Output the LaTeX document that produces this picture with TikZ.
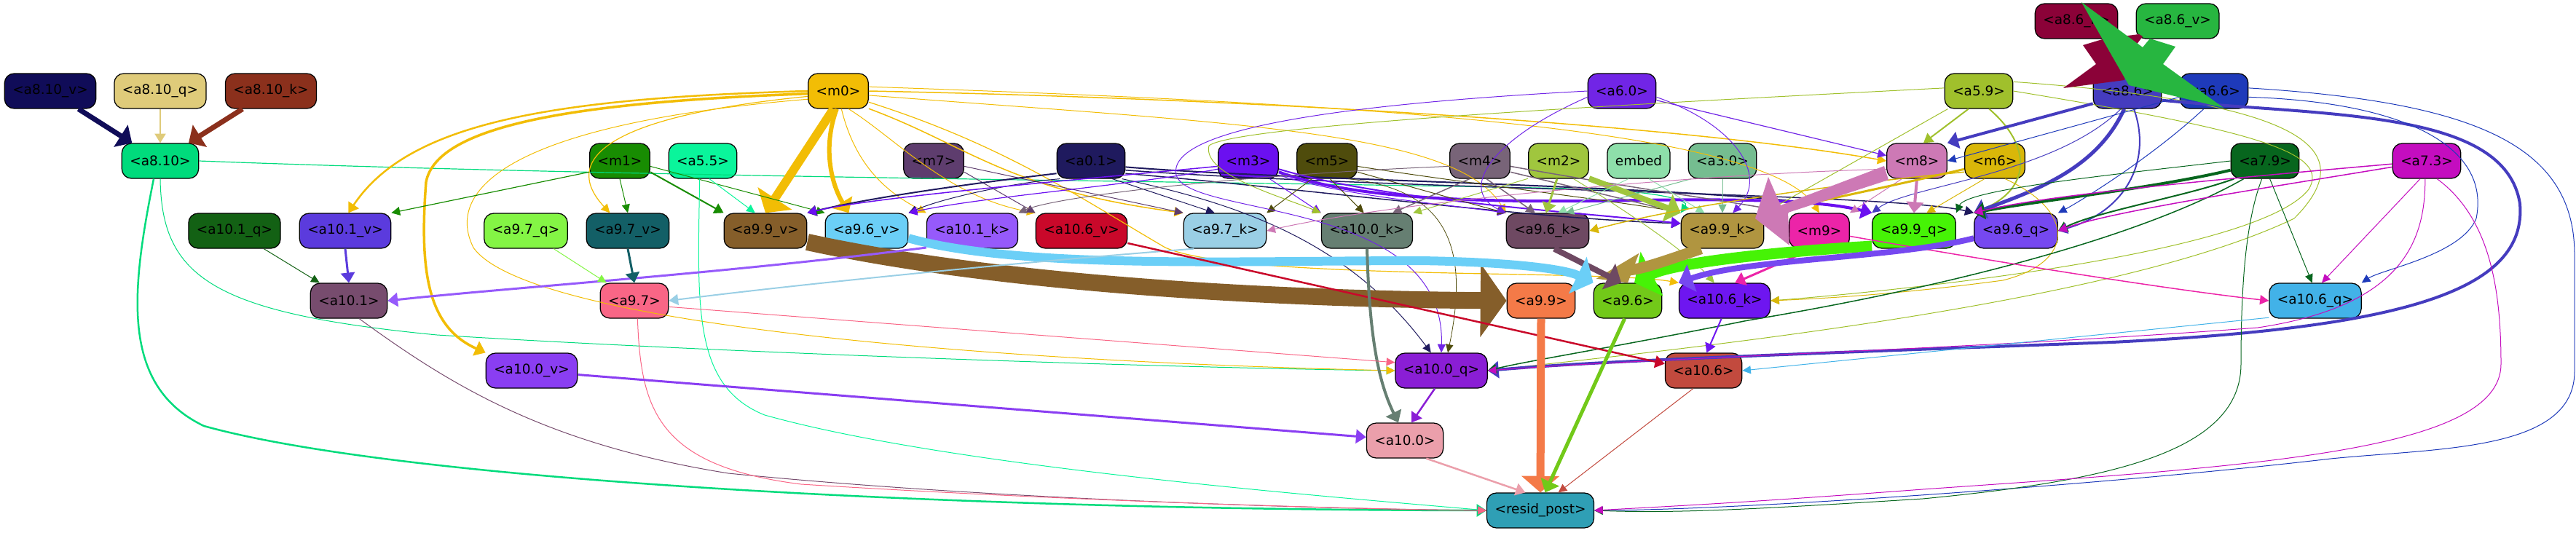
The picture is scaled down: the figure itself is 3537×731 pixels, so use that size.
\documentclass[tikz,border=0pt]{standalone}
\usepackage{fontspec}
\setmainfont{DejaVu Sans}
\usetikzlibrary{arrows.meta}
\definecolor{ca810v}{HTML}{100C58}\definecolor{ca810q}{HTML}{DFCB7A}\definecolor{ca810k}{HTML}{8B301C}
\definecolor{ca810}{HTML}{00DB7C}\definecolor{cm1}{HTML}{188C02}\definecolor{ca101q}{HTML}{136114}
\definecolor{ca101v}{HTML}{5B3BDD}\definecolor{ca97q}{HTML}{84F545}\definecolor{ca97v}{HTML}{135F66}
\definecolor{cm0}{HTML}{F2BD05}\definecolor{ca55}{HTML}{0AF59B}\definecolor{cm7}{HTML}{5E3D6E}
\definecolor{ca01}{HTML}{1F1A5E}\definecolor{cm3}{HTML}{6B10F0}\definecolor{ca99v}{HTML}{855E2A}
\definecolor{ca96v}{HTML}{6BCFF7}\definecolor{ca101k}{HTML}{965AFB}\definecolor{ca106v}{HTML}{C9082A}
\definecolor{ca97k}{HTML}{9ACFE5}\definecolor{cm5}{HTML}{4F4C0C}\definecolor{ca60}{HTML}{7125E6}
\definecolor{cm4}{HTML}{786478}\definecolor{cm2}{HTML}{A0C63E}\definecolor{cemb}{HTML}{8EDFAA}
\definecolor{ca30}{HTML}{75BD90}\definecolor{cm8}{HTML}{CD79B5}\definecolor{ca100k}{HTML}{667F72}
\definecolor{ca96k}{HTML}{6E4962}\definecolor{ca99k}{HTML}{B09540}\definecolor{cm9}{HTML}{EC24A8}
\definecolor{ca99q}{HTML}{46F306}\definecolor{ca59}{HTML}{A0C02C}\definecolor{ca86k}{HTML}{8B0238}
\definecolor{ca86v}{HTML}{27B640}\definecolor{ca86}{HTML}{453CBF}\definecolor{ca66}{HTML}{1E3ABA}
\definecolor{cm6}{HTML}{D9B709}\definecolor{ca79}{HTML}{07661E}\definecolor{ca73}{HTML}{C40DBF}
\definecolor{ca96q}{HTML}{7648F0}\definecolor{ca101}{HTML}{774C6E}\definecolor{ca97}{HTML}{F96686}
\definecolor{ca100v}{HTML}{8A3EF2}\definecolor{ca99}{HTML}{F47A48}\definecolor{ca96}{HTML}{72C919}
\definecolor{ca106k}{HTML}{6E16F0}\definecolor{ca106q}{HTML}{42B2E8}\definecolor{ca100q}{HTML}{8A1ED5}
\definecolor{ca106}{HTML}{C24A3E}\definecolor{ca100}{HTML}{EB9FAB}\definecolor{crp}{HTML}{2F9FB5}
\tikzset{
  nb/.style={draw=black, line width=0.025cm, rounded corners=0.26cm, minimum height=0.96cm,
    inner xsep=0.22cm, inner ysep=0pt, font=\fontsize{10.5pt}{12pt}\selectfont},
  pw/.style={line width=#1*0.02cm},
  e/.style={-{Triangle[length=6pt 1.1, width=4pt 4]}}
}
\begin{document}
\begin{tikzpicture}[x=0.02cm,y=-0.02cm]
\useasboundingbox (0,0) rectangle (3537,731);
% nodes
\node[nb,fill=ca86k] (a86k) at (2851,29) {<a8.6\_k>};
\node[nb,fill=ca86v] (a86v) at (2990,29) {<a8.6\_v>};
\node[nb,fill=ca810v] (a810v) at (69,125) {<a8.10\_v>};
\node[nb,fill=ca810q] (a810q) at (220,125) {<a8.10\_q>};
\node[nb,fill=ca810k] (a810k) at (372,125) {<a8.10\_k>};
\node[nb,fill=cm0] (m0) at (1151,125) {<m0>};
\node[nb,fill=ca60] (a60) at (2227,125) {<a6.0>};
\node[nb,fill=ca59] (a59) at (2717,125) {<a5.9>};
\node[nb,fill=ca86] (a86) at (2921,125) {<a8.6>};
\node[nb,fill=ca66] (a66) at (3040,125) {<a6.6>};
\node[nb,fill=ca810] (a810) at (220,221) {<a8.10>};
\node[nb,fill=cm1] (m1) at (851,221) {<m1>};
\node[nb,fill=ca55] (a55) at (965,221) {<a5.5>};
\node[nb,fill=cm7] (m7) at (1282,221) {<m7>};
\node[nb,fill=ca01] (a01) at (1498,221) {<a0.1>};
\node[nb,fill=cm3] (m3) at (1714,221) {<m3>};
\node[nb,fill=cm5] (m5) at (1822,221) {<m5>};
\node[nb,fill=cm4] (m4) at (2032,221) {<m4>};
\node[nb,fill=cm2] (m2) at (2140,221) {<m2>};
\node[nb,fill=cemb] (emb) at (2250,221) {embed};
\node[nb,fill=ca30] (a30) at (2365,221) {<a3.0>};
\node[nb,fill=cm8] (m8) at (2632,221) {<m8>};
\node[nb,fill=cm6] (m6) at (2739,221) {<m6>};
\node[nb,fill=ca79] (a79) at (3110,221) {<a7.9>};
\node[nb,fill=ca73] (a73) at (3332,221) {<a7.3>};
\node[nb,fill=ca101q] (a101q) at (322,317) {<a10.1\_q>};
\node[nb,fill=ca101v] (a101v) at (474,317) {<a10.1\_v>};
\node[nb,fill=ca97q] (a97q) at (722,317) {<a9.7\_q>};
\node[nb,fill=ca97v] (a97v) at (862,317) {<a9.7\_v>};
\node[nb,fill=ca99v] (a99v) at (1051,317) {<a9.9\_v>};
\node[nb,fill=ca96v] (a96v) at (1190,317) {<a9.6\_v>};
\node[nb,fill=ca101k] (a101k) at (1335,317) {<a10.1\_k>};
\node[nb,fill=ca106v] (a106v) at (1485,317) {<a10.6\_v>};
\node[nb,fill=ca97k] (a97k) at (1682,317) {<a9.7\_k>};
\node[nb,fill=ca100k] (a100k) at (1877,317) {<a10.0\_k>};
\node[nb,fill=ca96k] (a96k) at (2125,317) {<a9.6\_k>};
\node[nb,fill=ca99k] (a99k) at (2365,317) {<a9.9\_k>};
\node[nb,fill=cm9] (m9) at (2498,317) {<m9>};
\node[nb,fill=ca99q] (a99q) at (2628,317) {<a9.9\_q>};
\node[nb,fill=ca96q] (a96q) at (2768,317) {<a9.6\_q>};
\node[nb,fill=ca101] (a101) at (479,413) {<a10.1>};
\node[nb,fill=ca97] (a97) at (871,413) {<a9.7>};
\node[nb,fill=ca99] (a99) at (2116,413) {<a9.9>};
\node[nb,fill=ca96] (a96) at (2235,413) {<a9.6>};
\node[nb,fill=ca106k] (a106k) at (2368,413) {<a10.6\_k>};
\node[nb,fill=ca106q] (a106q) at (3179,413) {<a10.6\_q>};
\node[nb,fill=ca100v] (a100v) at (730,509) {<a10.0\_v>};
\node[nb,fill=ca100q] (a100q) at (1979,509) {<a10.0\_q>};
\node[nb,fill=ca106] (a106) at (2339,509) {<a10.6>};
\node[nb,fill=ca100] (a100) at (1929,605) {<a10.0>};
\node[nb,fill=crp] (rp) at (2115,701) {<resid\_post>};
% a8.10 group
\draw[e,pw=7,draw=ca810v] (a810v) -- (a810);
\draw[e,pw=2,draw=ca810q] (a810q) -- (a810);
\draw[e,pw=7,draw=ca810k] (a810k) -- (a810);
\draw[e,pw=2.5,draw=ca810] (a810.250) .. controls (180,400) and (165,530) .. (280,585) .. controls (550,660) and (1300,700) .. (rp.west);
\draw[e,pw=1,draw=ca810] (a810.south) .. controls (222,380) and (290,430) .. (600,460) .. controls (1000,485) and (1600,505) .. (a100q.west);
\draw[e,pw=1.2,draw=ca810] (a810.east) .. controls (900,245) and (1800,250) .. (2200,260) .. controls (2280,265) and (2320,275) .. (a99k.north west);
% m0
\draw[e,pw=12,draw=cm0] (m0.-105) -- (a99v.north);
\draw[e,pw=6,draw=cm0] (m0.-95) .. controls (1130,200) and (1140,250) .. (a96v.135);
\draw[e,pw=2.5,draw=cm0] (m0.west) .. controls (750,135) and (560,170) .. (a101v.80);
\draw[e,pw=3.5,draw=cm0] (m0.185) .. controls (800,140) and (600,170) .. (585,250) .. controls (575,380) and (590,450) .. (a100v.north west);
\draw[e,pw=1.2,draw=cm0] (m0.190) .. controls (830,160) and (770,220) .. (a97v.135);
\draw[e,pw=1,draw=cm0] (m0.195) .. controls (700,170) and (610,260) .. (650,340) .. controls (720,440) and (1300,495) .. (a100q.west);
\draw[e,pw=1,draw=cm0] (m0.-80) .. controls (1175,230) and (1220,265) .. (a101k.north west);
\draw[e,pw=1,draw=cm0] (m0.-60) .. controls (1230,190) and (1300,270) .. (a106v.north west);
\draw[e,pw=1.5,draw=cm0] (m0.-30) .. controls (1330,200) and (1380,260) .. (a97k.north west);
\draw[e,pw=1.2,draw=cm0] (m0.-20) .. controls (1380,200) and (1480,270) .. (1600,340) .. controls (1700,385) and (2200,370) .. (a106k.north west);
\draw[e,pw=1.5,draw=cm0] (m0.east) .. controls (1700,135) and (2300,170) .. (m8.west);
\draw[e,pw=1,draw=cm0] (m0.8) .. controls (1800,140) and (2420,170) .. (m9.north);
\draw[e,pw=1,draw=cm0] (m0.-8) .. controls (1700,170) and (2000,180) .. (a96k.north west);
% m1
\draw[e,pw=1.2,draw=cm1] (m1.200) -- (a101v.north east);
\draw[e,pw=1,draw=cm1] (m1.south) -- (a97v.north);
\draw[e,pw=2,draw=cm1] (m1.-20) -- (a99v.north west);
\draw[e,pw=1,draw=cm1] (m1.-10) -- (a96v.north west);
% a5.5
\draw[e,pw=1,draw=ca55] (a55.-70) -- (a99v.120);
\draw[e,pw=1,draw=ca55] (a55.-100) .. controls (958,420) and (950,530) .. (1050,570) .. controls (1300,640) and (1800,680) .. (rp.west);
% m7
\draw[e,pw=1,draw=cm7] (m7.-20) -- (a106v.north west);
\draw[e,pw=1,draw=cm7] (m7.-10) -- (a97k.north west);
% a0.1
\draw[e,pw=2,draw=ca01] (a01.200) .. controls (1350,250) and (1200,270) .. (a99v.north east);
\draw[e,pw=1,draw=ca01] (a01.210) .. controls (1400,250) and (1300,270) .. (a96v.north east);
\draw[e,pw=1,draw=ca01] (a01.-40) -- (a97k.120);
\draw[e,pw=2,draw=ca01] (a01.-10) .. controls (1800,250) and (2400,255) .. (a99q.north west);
\draw[e,pw=1.5,draw=ca01] (a01.-15) .. controls (1900,260) and (2600,265) .. (a96q.north west);
\draw[e,pw=1,draw=ca01] (a01.-30) .. controls (1700,280) and (1850,330) .. (a100q.120);
\draw[e,pw=1.5,draw=ca01] (a01.-20) .. controls (1800,260) and (2100,300) .. (a99k.170);
% m3
\draw[e,pw=1.5,draw=cm3] (m3.190) .. controls (1500,245) and (1200,270) .. (a99v.north east);
\draw[e,pw=1.2,draw=cm3] (m3.195) .. controls (1550,255) and (1350,270) .. (a96v.north east);
\draw[e,pw=1,draw=cm3] (m3.-40) -- (a100k.north west);
\draw[e,pw=4,draw=cm3] (m3.-20) .. controls (1850,270) and (2000,280) .. (2250,275) .. controls (2450,272) and (2520,280) .. (a99q.north west);
\draw[e,pw=2,draw=cm3] (m3.-15) .. controls (1900,275) and (2150,290) .. (a99k.170);
\draw[e,pw=1,draw=cm3] (m3.-25) .. controls (1850,270) and (1980,280) .. (a96k.north west);
% m5
\draw[e,pw=1,draw=cm5] (m5.-130) -- (a97k.north east);
\draw[e,pw=1,draw=cm5] (m5.-80) -- (a100k.100);
\draw[e,pw=1,draw=cm5] (m5.-20) .. controls (1950,260) and (2020,280) .. (a96k.north west);
\draw[e,pw=1,draw=cm5] (m5.-10) .. controls (2000,250) and (2250,280) .. (a99k.north west);
\draw[e,pw=0.8,draw=cm5] (m5.-40) .. controls (1980,260) and (2020,330) .. (a100q.70);
% m4
\draw[e,pw=1.5,draw=cm4] (m4.-120) -- (a100k.35);
\draw[e,pw=1.5,draw=cm4] (m4.-70) -- (a96k.125);
\draw[e,pw=1.5,draw=cm4] (m4.-20) -- (a99k.north west);
\draw[e,pw=1.5,draw=cm4] (m4.-10) .. controls (2250,260) and (2400,280) .. (m9.north west);
\draw[e,pw=1,draw=cm4] (m4.190) .. controls (1700,240) and (1450,270) .. (a101k.north east);
% m2
\draw[e,pw=3,draw=cm2] (m2.-95) -- (a96k.95);
\draw[e,pw=8,draw=cm2] (m2.-30) -- (a99k.north west);
\draw[e,pw=1,draw=cm2] (m2.-150) -- (a100k.north east);
\draw[e,pw=1,draw=cm2] (m2.-50) .. controls (2250,300) and (2320,350) .. (a106k.120);
% embed, a3.0
\draw[e,pw=1,draw=cemb] (emb.-120) -- (a96k.60);
\draw[e,pw=1,draw=cemb] (emb.-60) -- (a99k.135);
\draw[e,pw=1,draw=ca30] (a30.south) -- (a99k.north);
\draw[e,pw=1,draw=ca30] (a30.-150) -- (a96k.45);
% a6.0
\draw[e,pw=1.2,draw=ca60] (a60.-15) -- (m8.170);
\draw[e,pw=1,draw=ca60] (a60.-10) .. controls (2380,170) and (2430,240) .. (a99k.60);
\draw[e,pw=1,draw=ca60] (a60.190) .. controls (2050,190) and (2000,260) .. (a96k.north west);
\draw[e,pw=1,draw=ca60] (a60.west) .. controls (1900,140) and (1600,170) .. (1615,240) .. controls (1630,300) and (1985,270) .. (a100q.north);
% a5.9
\draw[e,pw=2,draw=ca59] (a59.-120) -- (m8.70);
\draw[e,pw=2,draw=ca59] (a59.-60) .. controls (2790,200) and (2790,260) .. (a96q.north west);
\draw[e,pw=1,draw=ca59] (a59.-150) -- (a99k.north east);
\draw[e,pw=1,draw=ca59] (a59.east) .. controls (3100,180) and (3200,210) .. (3170,260) .. controls (3100,350) and (2600,400) .. (a106k.east);
\draw[e,pw=1,draw=ca59] (a59.15) .. controls (3150,140) and (3250,200) .. (3150,300) .. controls (2900,420) and (2300,480) .. (a100q.east);
\draw[e,pw=1,draw=ca59] (a59.175) .. controls (2300,140) and (1700,170) .. (1660,200) .. controls (1650,240) and (1760,270) .. (a100k.north west);
% a8.6
\draw[e,pw=4,draw=ca86] (a86.-160) -- (m8.north east);
\draw[e,pw=5,draw=ca86] (a86.-100) .. controls (2880,230) and (2800,260) .. (a96q.north west);
\draw[e,pw=4,draw=ca86] (a86.-15) .. controls (3200,160) and (3440,150) .. (3460,280) .. controls (3470,400) and (3300,450) .. (2900,470) .. controls (2500,485) and (2200,495) .. (a100q.east);
\draw[e,pw=1,draw=ca86] (a86.-110) .. controls (2820,240) and (2620,255) .. (a99q.north west);
\draw[e,pw=2,draw=ca86] (a86.-70) .. controls (2955,220) and (2920,290) .. (a96q.east);
% a6.6
\draw[e,pw=1,draw=ca66] (a66.190) -- (m8.east);
\draw[e,pw=1,draw=ca66] (a66.-120) .. controls (2950,220) and (2850,280) .. (a96q.north east);
\draw[e,pw=1,draw=ca66] (a66.-10) .. controls (3300,140) and (3420,200) .. (3400,300) .. controls (3380,350) and (3270,370) .. (a106q.north east);
\draw[e,pw=1,draw=ca66] (a66.5) .. controls (3400,140) and (3535,200) .. (3535,350) -- (3535,510) .. controls (3535,620) and (3350,615) .. (3200,630) .. controls (2900,665) and (2400,700) .. (rp.east);
% m8
\draw[e,pw=4,draw=cm8] (m8.south) -- (a99q.north);
\draw[e,pw=1,draw=cm8] (m8.-130) -- (m9.north east);
\draw[e,pw=1,draw=cm8] (m8.195) .. controls (2300,240) and (1900,280) .. (a97k.east);
% m6
\draw[e,pw=3,draw=cm6] (m6.195) .. controls (2600,255) and (2480,280) .. (a99k.north east);
\draw[e,pw=1,draw=cm6] (m6.-120) -- (a99q.55);
\draw[e,pw=1.5,draw=cm6] (m6.200) .. controls (2500,255) and (2300,285) .. (a96k.east);
\draw[e,pw=1,draw=cm6] (m6.-60) .. controls (2850,290) and (2850,360) .. (2750,385) .. controls (2600,405) and (2500,410) .. (a106k.east);
% a7.9
\draw[e,pw=4,draw=ca79] (a79.195) .. controls (2950,260) and (2800,275) .. (a96q.north west);
\draw[e,pw=2,draw=ca79] (a79.210) .. controls (3000,270) and (2880,290) .. (a96q.east);
\draw[e,pw=1,draw=ca79] (a79.180) .. controls (2900,240) and (2700,260) .. (a99q.north east);
\draw[e,pw=1.5,draw=ca79] (a79.-140) .. controls (2950,320) and (2700,390) .. (2400,440) .. controls (2200,480) and (2100,495) .. (a100q.east);
\draw[e,pw=1,draw=ca79] (a79.-75) -- (a106q.100);
\draw[e,pw=1,draw=ca79] (a79.-100) .. controls (3085,300) and (3077,380) .. (3077,500) .. controls (3077,620) and (2900,660) .. (2640,685) .. controls (2400,700) and (2300,705) .. (rp.east);
% a7.3
\draw[e,pw=1.5,draw=ca73] (a73.185) .. controls (3000,250) and (2800,270) .. (a96q.north west);
\draw[e,pw=1.5,draw=ca73] (a73.190) .. controls (3100,260) and (2900,290) .. (a96q.east);
\draw[e,pw=1,draw=ca73] (a73.-110) -- (a106q.70);
\draw[e,pw=1,draw=ca73] (a73.-95) .. controls (3330,330) and (3300,420) .. (3100,450) .. controls (2700,480) and (2300,490) .. (a100q.east);
\draw[e,pw=1,draw=ca73] (a73.-60) .. controls (3420,300) and (3434,400) .. (3434,500) .. controls (3434,620) and (3100,640) .. (2640,672) .. controls (2400,690) and (2300,695) .. (rp.east);
% m9
\draw[e,pw=3,draw=cm9] (m9.-110) -- (a106k.60);
\draw[e,pw=1.5,draw=cm9] (m9.-10) .. controls (2800,370) and (3000,400) .. (a106q.west);
% thick into a9.6 etc.
\draw[e,pw=15,draw=ca99q] (a99q.200) .. controls (2450,345) and (2300,360) .. (a96.70);
\draw[e,pw=8,draw=ca96q] (a96q.190) .. controls (2600,355) and (2400,355) .. (a106k.north west);
\draw[e,pw=15,draw=ca99k] (a99k.-140) .. controls (2280,360) and (2230,380) .. (a96.north);
\draw[e,pw=8,draw=ca96k] (a96k.-70) -- (a96.110);
\draw[e,pw=23,draw=ca99v] (a99v.-15) .. controls (1350,385) and (1700,410) .. (a99.west);
\draw[e,pw=12,draw=ca96v] (a96v.-10) .. controls (1400,370) and (1700,358) .. (1950,358) .. controls (2080,360) and (2150,370) .. (a96.north west);
\draw[e,pw=3,draw=ca101k] (a101k.200) .. controls (1000,375) and (700,395) .. (a101.east);
\draw[e,pw=2,draw=ca97k] (a97k.-150) .. controls (1400,360) and (1100,390) .. (a97.east);
\draw[e,pw=2.5,draw=ca106v] (a106v.-15) -- (a106.170);
\draw[e,pw=4,draw=ca100k] (a100k.south) .. controls (1880,450) and (1890,520) .. (a100.110);
% lower
\draw[e,pw=1,draw=ca101q] (a101q) -- (a101);
\draw[e,pw=3,draw=ca101v] (a101v.south) -- (a101.north);
\draw[e,pw=1,draw=ca97q] (a97q) -- (a97);
\draw[e,pw=3,draw=ca97v] (a97v.south) -- (a97.north);
\draw[e,pw=1,draw=ca101] (a101.-60) .. controls (620,530) and (750,610) .. (1000,650) .. controls (1400,690) and (1900,700) .. (rp.west);
\draw[e,pw=1,draw=ca97] (a97.-80) .. controls (880,560) and (900,640) .. (1100,665) .. controls (1500,690) and (1900,700) .. (rp.west);
\draw[e,pw=1,draw=ca97] (a97.-10) -- (a100q.170);
\draw[e,pw=11,draw=ca99] (a99.south) -- (rp.north);
\draw[e,pw=5,draw=ca96] (a96.-100) -- (rp.75);
\draw[e,pw=2,draw=ca106k] (a106k.-100) -- (a106.80);
\draw[e,pw=2.5,draw=ca100q] (a100q.-110) -- (a100.70);
\draw[e,pw=2.5,draw=ca100] (a100.-40) -- (rp.130);
\draw[e,pw=1,draw=ca106] (a106.-120) -- (rp.45);
\draw[e,pw=3,draw=ca100v] (a100v.-5) -- (a100.175);
\draw[e,pw=1,draw=ca106q] (a106q.200) -- (a106.east);
% oversized arrow shapes
\fill[cm8] (2587,228) -- (2593,247) -- (2455,292) -- (2457,337) -- (2410,300) -- (2428,243) -- (2445,282) -- cycle;
\fill[ca86k] (2860,62) -- (2890,53) -- (2937,47) -- (2942,50) -- (2927,70) -- (2917,110) -- (2833,121) -- (2878,88) -- cycle;
\fill[ca86v] (2858,3) -- (2942,65) -- (2952,53) -- (2987,64) -- (2970,88) -- (3053,148) -- (2923,117) -- (2900,77) -- cycle;
\end{tikzpicture}
\end{document}
